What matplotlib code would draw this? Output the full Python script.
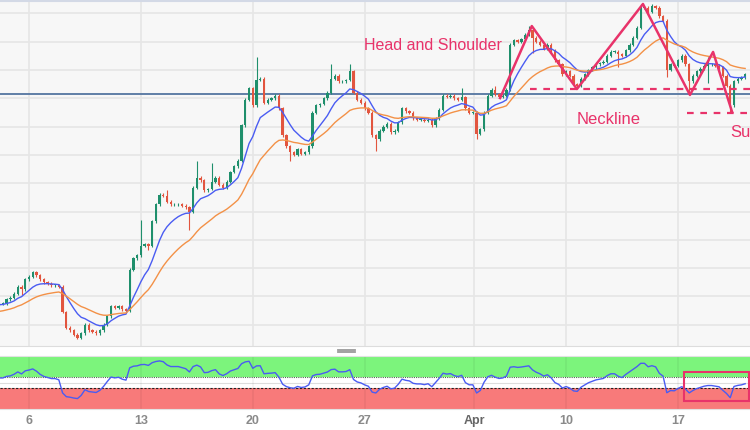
import matplotlib
matplotlib.use('Agg')
import matplotlib.pyplot as plt
import numpy as np
from matplotlib.lines import Line2D
from matplotlib.patches import Rectangle

# XAU/USD 4H closes (one value per candle)
closes = [
    1835, 1835, 1838, 1839, 1842, 1847, 1845, 1852, 1854, 1857,
    1855, 1852, 1850, 1849, 1848, 1848, 1847, 1829, 1818, 1816,
    1813, 1811, 1814, 1820, 1816, 1815, 1814, 1816, 1820, 1826,
    1833, 1832, 1833, 1831, 1830, 1859, 1867, 1869, 1876, 1877,
    1876, 1893, 1905, 1912, 1911, 1907, 1905, 1905, 1905, 1904,
    1903, 1900, 1917, 1924, 1922, 1915, 1916, 1921, 1924, 1919,
    1917, 1921, 1928, 1932, 1936, 1961, 1979, 1987, 1975, 1993,
    1994, 1977, 1979, 1980, 1982, 1973, 1954, 1946, 1942, 1940,
    1944, 1941, 1942, 1946, 1970, 1975, 1976, 1980, 1984, 1994,
    1996, 1992, 1992, 1993, 1999, 1984, 1979, 1977, 1973, 1970,
    1954, 1951, 1957, 1960, 1962, 1956, 1957, 1963, 1973, 1971,
    1970, 1966, 1965, 1965, 1964, 1965, 1961, 1966, 1972, 1982,
    1981, 1982, 1980, 1979, 1981, 1973, 1970, 1970, 1955, 1958,
    1970, 1982, 1986, 1983, 1981, 1982, 1986, 2018, 2021, 2020,
    2022, 2025, 2028, 2023, 2020, 2018, 2015, 2018, 2014, 2007,
    2004, 1997, 1999, 1996, 1990, 1989, 1994, 1997, 2000, 2002,
    2004, 2005, 2006, 2010, 2013, 2013, 2011, 2010, 2014, 2018,
    2023, 2030, 2044, 2044, 2041, 2045, 2044, 2038, 2035, 2000,
    2004, 2003, 2007, 2010, 2004, 1992, 1996, 1999, 2001, 2003,
    2004, 2004, 2003, 2002, 1996, 1989, 1975, 1992, 1994, 1995,
    1997,
]
first_open = 1834

# long wicks that stand out
wick_highs = {38: 1894, 45: 1915, 53: 1936, 57: 1934, 69: 2009, 89: 2004,
              94: 2004, 124: 1987, 133: 1989, 142: 2031, 172: 2047,
              175: 2047, 190: 2009}
wick_lows = {6: 1841, 40: 1873, 51: 1887, 78: 1936, 101: 1943, 128: 1951,
             143: 2012, 166: 2002, 179: 1995, 185: 1984, 190: 1991, 196: 1970}

ema_fast_seed = 1834
ema_slow_seed = 1829
rsi_seed_gain = 3.0
rsi_seed_loss = 2.2

tick_pos = [8, 38, 68, 98, 127.3, 152, 182]
tick_labels = ['6', '13', '20', '27', 'Apr', '10', '17']

level_line = 1983.1
hs_x = [134.3, 142.8, 154.9, 172.6, 185.2, 191.4, 196.5]
hs_y = [1980.2, 2031.1, 1986.6, 2046.7, 1982.4, 2012.8, 1970.4]
neckline = 1986.6
neckline_start = 142.3
support = 1969.6
support_start = 184.4
rsi_box = [183.6, 15, 70]   # x start, rsi low, rsi high

closes = np.array(closes, dtype=float)
n = len(closes)
idx = np.arange(n)
opens = np.concatenate([[first_open], closes[:-1]])


def ema(vals, period, seed):
    a = 2.0 / (period + 1)
    out = []
    e = seed
    for v in vals:
        e = e + a * (v - e)
        out.append(e)
    return np.array(out)


def rsi(vals, period, g0, l0):
    out = []
    g, l = g0, l0
    prev = first_open
    for v in vals:
        d = v - prev
        g = (g * (period - 1) + max(d, 0)) / period
        l = (l * (period - 1) + max(-d, 0)) / period
        out.append(100 - 100 / (1 + g / l))
        prev = v
    return np.array(out)


# periods roughly half the usual 20/50/14 since these are 4H bars, the chart used 2H
ema_fast = ema(closes, 10, ema_fast_seed)
ema_slow = ema(closes, 25, ema_slow_seed)
rsi_line = rsi(closes, 10, rsi_seed_gain, rsi_seed_loss)

up_col = '#1f8f6c'
dn_col = '#e2553f'
pink = '#e8336a'

fig = plt.figure(figsize=(7.5, 4.3), dpi=100)
fig.patch.set_facecolor('white')
ax = fig.add_axes([0, 84 / 430, 1, 345 / 430])
ax2 = fig.add_axes([0, 21 / 430, 1, 53 / 430])

xlim = (0.225, 201.3)

# ---- main panel
ax.set_facecolor('#f7f7f7')
ax.set_xlim(*xlim)
ax.set_ylim(1805.0, 2048.8)
ax.set_yticks(np.arange(1820, 2041, 20))
ax.set_xticks(tick_pos)
ax.grid(True, color='#e6e6e6', lw=1.2, zorder=0)
ax.set_axisbelow(True)
ax.tick_params(length=0, labelbottom=False, labelleft=False)
for s in ax.spines.values():
    s.set_visible(False)
ax.spines['top'].set_visible(True)
ax.spines['top'].set_color('#d3d9e6')
ax.spines['top'].set_linewidth(1.5)
ax.spines['bottom'].set_visible(True)
ax.spines['bottom'].set_color('#dddddd')

ax.axhline(level_line, color='#5f7ea6', lw=1.4, zorder=1.5)

highs = np.maximum(opens, closes) + 1.0
lows = np.minimum(opens, closes) - 1.0
for k, v in wick_highs.items():
    highs[k] = v
for k, v in wick_lows.items():
    lows[k] = v
cols = [up_col if c >= o else dn_col for o, c in zip(opens, closes)]
ax.vlines(idx, lows, highs, colors=cols, lw=0.8, zorder=3)
body = np.where(np.abs(closes - opens) < 0.6, 0.6, closes - opens)
ax.bar(idx, body, bottom=opens, width=0.62, color=cols, lw=0, zorder=3)

ax.plot(idx, ema_fast, color='#4a5cf2', lw=1.0, zorder=4)
ax.plot(idx, ema_slow, color='#f39147', lw=1.0, zorder=4)

ax.plot(hs_x, hs_y, color=pink, lw=1.8, zorder=5)
ax.hlines(neckline, neckline_start, xlim[1], colors=pink, lw=1.6,
          linestyles=(0, (3, 3)), zorder=5)
ax.hlines(support, support_start, xlim[1], colors=pink, lw=1.6,
          linestyles=(0, (3, 3)), zorder=5)

font = ['Liberation Sans', 'DejaVu Sans']
ax.text(97.9, 2017.5, 'Head and Shoulder', color=pink, fontsize=11.5,
        family=font, va='center', ha='left')
ax.text(154.9, 1965.0, 'Neckline', color=pink, fontsize=12,
        family=font, va='center', ha='left')
# the label runs off the right edge in the original too
ax.text(195.9, 1956.0, 'Support', color=pink, fontsize=12, family=font,
        va='center', ha='left', clip_on=True)

# ---- RSI panel
ax2.set_facecolor('white')
ax2.set_xlim(*xlim)
ax2.set_ylim(0, 100)
ax2.axhspan(60, 100, color='#7cf47c', lw=0, zorder=0)
ax2.axhspan(0, 40, color='#f87a7a', lw=0, zorder=0)
ax2.axhline(50, color='#dddddd', lw=0.8, zorder=1)
ax2.axhline(60, color='#4a6a4a', lw=0.8, ls=(0, (1, 1)), zorder=1)
ax2.axhline(40, color='#222222', lw=0.8, ls=(0, (2, 1.5)), zorder=1)
for t in tick_pos:
    ax2.axvline(t, color='#000000', alpha=0.05, lw=1.2, zorder=1)
ax2.plot(idx, rsi_line, color='#4a5cf2', lw=1.0, zorder=3)
ax2.add_patch(Rectangle((rsi_box[0], rsi_box[1]), xlim[1] - rsi_box[0] - 0.2,
                        rsi_box[2] - rsi_box[1], fill=False, edgecolor=pink,
                        lw=1.5, zorder=4))
ax2.set_xticks(tick_pos)
ax2.set_xticklabels(tick_labels)
ax2.set_yticks([])
ax2.tick_params(length=0, pad=4, labelsize=9, labelcolor='#8a8a8a')
for lab in ax2.get_xticklabels():
    lab.set_family(font)
    lab.set_fontweight('bold')
    if lab.get_text() == 'Apr':
        lab.set_color('#666666')
for s in ax2.spines.values():
    s.set_visible(False)
ax2.spines['top'].set_visible(True)
ax2.spines['top'].set_color('#e2e2e2')
ax2.spines['bottom'].set_visible(True)
ax2.spines['bottom'].set_color('#e2e2e2')

# splitter handle between panels
for yy in (349.5, 352.0):
    fig.add_artist(Line2D([338 / 750, 355 / 750], [1 - yy / 430, 1 - yy / 430],
                          color='#9a9a9a', lw=1.3))

fig.savefig('out.png', dpi=100)
